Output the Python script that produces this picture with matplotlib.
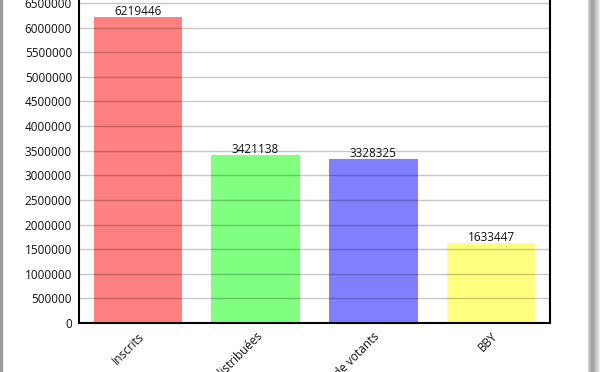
#!/usr/bin/env python3
"""Bar chart of registered voters, distributed cards, voters and BBY."""

import matplotlib.pyplot as plt
from matplotlib.patches import Rectangle
import numpy as np

CATEGORIES = ["Inscrits", "Cartes distribuées", "Nombre de votants", "BBY"]
VALUES = [6219446, 3421138, 3328325, 1633447]
COLORS = ["#ff8080", "#80ff80", "#8080ff", "#ffff80"]
Y_TICKS = list(range(0, 7000001, 500000))

INK = "#111111"


def main() -> None:
    plt.rcParams.update({"font.family": ["Open Sans", "DejaVu Sans"]})

    fig = plt.figure(figsize=(6.0, 3.72), dpi=100)
    ax = fig.add_axes([79 / 600, 49 / 372, 471 / 600, (372 + 21.6 - 49) / 372])

    x = np.arange(len(CATEGORIES))
    ax.bar(x, VALUES, width=0.75, color=COLORS, zorder=1)
    for xi, v in zip(x, VALUES):
        ax.text(xi, v - 20000, str(v), ha="center", va="bottom",
                fontsize=8.5, color=INK, zorder=4)

    ax.set_xlim(-0.5, len(CATEGORIES) - 0.5)
    ax.set_ylim(0, 7000000)
    ax.set_yticks(Y_TICKS)
    ax.set_yticklabels([str(t) for t in Y_TICKS], fontsize=8.5, color=INK)
    ax.set_xticks(x)
    ax.set_xticklabels(CATEGORIES, rotation=45, ha="right",
                       rotation_mode="anchor", fontsize=8.5, color=INK)
    ax.tick_params(axis="both", length=0, pad=5)

    ax.grid(axis="y", color="black", alpha=0.22, linewidth=1.0, zorder=3)
    ax.set_axisbelow(False)
    for spine in ax.spines.values():
        spine.set_color("black")
        spine.set_linewidth(1.5)

    # Screenshot frame: thin grey line on the left, shadow on the right.
    fig.patches.append(Rectangle((0, 0), 2 / 600, 1, transform=fig.transFigure,
                                 color="#9a9a9a", zorder=0))
    shades = ["#d8d8d8", "#c4c4c4", "#b0b0b0", "#a4a4a4", "#a0a0a0", "#a6a6a6",
              "#b0b0b0", "#bcbcbc", "#c8c8c8", "#d4d4d4", "#e0e0e0", "#ececec"]
    for i, c in enumerate(shades):
        fig.patches.append(Rectangle(((588 + i) / 600, 0), 1 / 600, 1,
                                     transform=fig.transFigure, color=c, zorder=0))

    fig.savefig("out.png", dpi=100)
    plt.close(fig)


if __name__ == "__main__":
    main()
